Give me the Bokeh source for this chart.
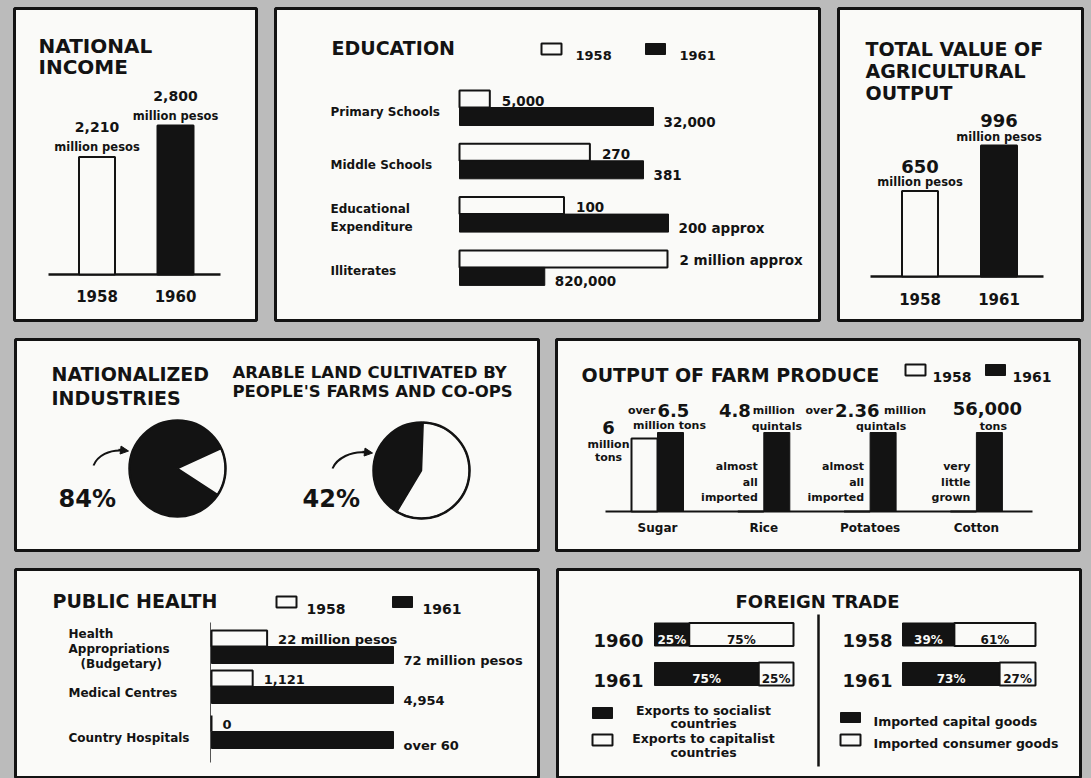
import math
from bokeh.plotting import figure
from bokeh.layouts import row, column
from bokeh.models import Range1d, Arrow, NormalHead
from bokeh.core.properties import value
from bokeh.embed import file_html
from bokeh.resources import INLINE

# ---------------- data ----------------
income_years = ["1958", "1960"]
income_values = [2210, 2800]
income_labels = ["2,210", "2,800"]

edu_rows = [["Primary Schools"], ["Middle Schools"], ["Educational", "Expenditure"], ["Illiterates"]]
edu_1958 = [5000, 270, 100, 2000000]
edu_1961 = [32000, 381, 200, 820000]
edu_labels_1958 = ["5,000", "270", "100", "2 million approx"]
edu_labels_1961 = ["32,000", "381", "200 approx", "820,000"]

agri_years = ["1958", "1961"]
agri_values = [650, 996]
agri_labels = ["650", "996"]

pie_pct = [84, 42]

farm_crops = ["Sugar", "Rice", "Potatoes", "Cotton"]
farm_1958 = [6.0, 0.0, 0.0, 0.0]
farm_1961 = [6.5, 4.8, 2.36, 0.056]
farm_notes = [[], ["almost", "all", "imported"], ["almost", "all", "imported"], ["very", "little", "grown"]]

health_rows = [["Health", "Appropriations", "(Budgetary)"], ["Medical Centres"], ["Country Hospitals"]]
health_1958 = [22, 1121, 0]
health_1961 = [72, 4954, 60]
health_labels_1958 = ["22 million pesos", "1,121", "0"]
health_labels_1961 = ["72 million pesos", "4,954", "over 60"]

export_years = ["1960", "1961"]
export_socialist = [25, 75]
export_capitalist = [75, 25]
import_years = ["1958", "1961"]
import_capital = [39, 73]
import_consumer = [61, 27]

# ---------------- style ----------------
INK = "#131313"
PAPER = "#fafaf8"
BG = "#bbbbbb"
FONT = "DejaVu Sans"


def panel(ox, oy, w, h, margin, open_bottom=False):
    """A boxed panel whose default ranges are page pixel positions."""
    bb = 0 if open_bottom else 2
    p = figure(width=w, height=h, x_range=Range1d(ox + 2, ox + w - 2),
               y_range=Range1d(oy + h - bb, oy + 2),
               output_backend="svg", toolbar_location=None, tools="",
               x_axis_location=None, y_axis_location=None, min_border=2,
               min_border_bottom=bb, margin=margin)
    p.grid.visible = False
    p.background_fill_color = PAPER
    p.border_fill_color = BG
    p.outline_line_color = INK
    p.outline_line_width = 3
    p._oy = oy
    p._ox = ox
    p._bb = bb
    return p


def txt(p, xs, ys, texts, size, align="left", color=INK, dx=0, dy=0,
        xr="default", yr="default", style="bold"):
    p.text(x=list(xs), y=list(ys), text=list(texts), text_font=value(FONT),
           text_font_size=f"{size}px", text_font_style=style, text_align=align,
           text_baseline="alphabetic", text_color=color, x_offset=dx, y_offset=dy,
           x_range_name=xr, y_range_name=yr)


def vrange(p, h, base, s):
    oy = p._oy
    return Range1d(start=-(oy + h - p._bb - base) * s, end=(base - oy - 2) * s)


def hrange(p, w, x0, s):
    ox = p._ox
    return Range1d(start=-(x0 - ox - 2) * s, end=(ox + w - 2 - x0) * s)


def legend_pair(p, x, y, size, gap, tgap, box=20, bh=11):
    p.quad(left=[x], right=[x + box], top=[y - bh], bottom=[y], fill_color=PAPER, line_color=INK, line_width=2)
    txt(p, [x + box + tgap], [y + 1], ["1958"], size)
    p.quad(left=[x + gap], right=[x + gap + box], top=[y - bh], bottom=[y], fill_color=INK, line_color=INK)
    txt(p, [x + gap + box + tgap], [y + 1], ["1961"], size)


# ---------------- National income ----------------
W, H = 246, 316
pa = panel(12, 6, W, H, (6, 0, 0, 12))
txt(pa, [38, 38], [45, 66], ["NATIONAL", "INCOME"], 20)
pa.extra_y_ranges = {"val": vrange(pa, H, 274, 2800 / 149)}
xa = [96.5 + 78.5 * i for i in range(len(income_years))]
pa.segment(x0=[48], y0=[0], x1=[220], y1=[0], line_color=INK, line_width=2.5, y_range_name="val")
pa.vbar(x=xa, top=income_values, bottom=0, width=36, y_range_name="val",
        fill_color=[PAPER, INK], line_color=INK, line_width=2)
txt(pa, xa, income_values, income_labels, 14, "center", dy=-30, yr="val")
txt(pa, xa, income_values, ["million pesos"] * 2, 11.5, "center", dy=-10, yr="val")
txt(pa, xa, [0, 0], income_years, 15, "center", dy=21, yr="val")

# ---------------- Education ----------------
W, H = 548, 316
pb = panel(273, 6, W, H, (6, 0, 0, 15))
txt(pb, [331], [47], ["EDUCATION"], 19)
legend_pair(pb, 541, 54, size=13, gap=104, tgap=14)
edu_len = [194, 184, 209, 208]
x0 = 459
for i in range(len(edu_rows)):
    yb = 107 + 53.3 * i
    m = max(edu_1958[i], edu_1961[i])
    name = f"r{i}"
    pb.extra_x_ranges[name] = hrange(pb, W, x0, m / edu_len[i])
    pb.hbar(y=[yb - 8.5], left=[0], right=[edu_1958[i]], height=17, fill_color=PAPER,
            line_color=INK, line_width=2, x_range_name=name)
    pb.hbar(y=[yb + 9], left=[0], right=[edu_1961[i]], height=18, fill_color=INK,
            line_color=INK, line_width=1, x_range_name=name)
    txt(pb, [edu_1958[i]], [yb - 7], [edu_labels_1958[i]], 13.5, dx=12, xr=name)
    txt(pb, [edu_1961[i]], [yb + 14], [edu_labels_1961[i]], 13.5, dx=10, xr=name)
    n = len(edu_rows[i])
    ys = [yb + 4 + (j - (n - 1) / 2) * 18 for j in range(n)]
    txt(pb, [330] * n, ys, edu_rows[i], 12)

# ---------------- Agricultural output ----------------
W, H = 248, 316
pc = panel(836, 6, W, H, (6, 7, 0, 15))
txt(pc, [865, 865, 865], [48, 70, 92], ["TOTAL VALUE OF", "AGRICULTURAL", "OUTPUT"], 19)
pc.extra_y_ranges = {"val": vrange(pc, H, 276, 996 / 131)}
xc = [919.5 + 79 * i for i in range(len(agri_years))]
pc.segment(x0=[870], y0=[0], x1=[1043], y1=[0], line_color=INK, line_width=2.5, y_range_name="val")
pc.vbar(x=xc, top=agri_values, bottom=0, width=36, y_range_name="val",
        fill_color=[PAPER, INK], line_color=INK, line_width=2)
txt(pc, xc, agri_values, agri_labels, 18, "center", dy=-25, yr="val")
txt(pc, xc, agri_values, ["million pesos"] * 2, 11.5, "center", dy=-9, yr="val")
txt(pc, xc, [0, 0], agri_years, 15, "center", dy=22, yr="val")

# ---------------- Pies ----------------
W, H = 527, 215
pd_ = panel(13, 337, W, H, (15, 0, 0, 13))
txt(pd_, [51, 51], [373, 397], ["NATIONALIZED", "INDUSTRIES"], 19)
txt(pd_, [232, 232], [372, 391], ["ARABLE LAND CULTIVATED BY", "PEOPLE'S FARMS AND CO-OPS"], 16.5)
pie_x = [177, 421]
pie_y = [468, 470]
pie_start = [24.6, 88.0]
R = 48
for i in range(2):
    a0 = math.radians(pie_start[i])
    a1 = a0 + math.radians(pie_pct[i] * 3.6)
    pd_.wedge(x=[pie_x[i]], y=[pie_y[i]], radius=R, start_angle=[a0], end_angle=[a1],
              direction="anticlock", fill_color=INK, line_color=INK, line_width=1)
    pd_.wedge(x=[pie_x[i]], y=[pie_y[i]], radius=R, start_angle=[a1], end_angle=[a0 + 2 * math.pi],
              direction="anticlock", fill_color=PAPER, line_color=INK, line_width=1.5)
pd_.circle(x=pie_x, y=pie_y, radius=R, fill_color=None, line_color=INK, line_width=2.5)
txt(pd_, [58, 302], [498, 498], [f"{v}%" for v in pie_pct], 24)
pd_.bezier(x0=[93, 332], y0=[465, 468], x1=[122, 366], y1=[450, 452],
           cx0=[97, 336], cy0=[455, 458], cx1=[109, 351], cy1=[449, 450],
           line_color=INK, line_width=2)
for (xs_, ys_, xe, ye) in [(118, 449.3, 128, 450.5), (362, 451.3, 372, 452.5)]:
    pd_.add_layout(Arrow(end=NormalHead(size=8, fill_color=INK, line_color=INK, line_width=1),
                         x_start=xs_, y_start=ys_, x_end=xe, y_end=ye, line_color=INK, line_width=2))

# ---------------- Farm produce ----------------
W, H = 527, 215
pe = panel(554, 337, W, H, (15, 10, 0, 14))
txt(pe, [581], [374], ["OUTPUT OF FARM PRODUCE"], 19)
legend_pair(pe, 905, 375, size=14, gap=80, tgap=7)
pe.extra_y_ranges = {"val": vrange(pe, H, 511, 1 / 79)}
cx = [657 + 106.3 * i for i in range(len(farm_crops))]
f58 = [a / b for a, b in zip(farm_1958, farm_1961)]
f61 = [b / b for b in farm_1961]
pe.segment(x0=[605], y0=[0], x1=[1032], y1=[0], line_color=INK, line_width=2, y_range_name="val")
pe.vbar(x=[c - 13 for c in cx], top=f58, bottom=0, width=26, y_range_name="val",
        fill_color=PAPER, line_color=INK, line_width=2)
pe.vbar(x=[c + 13 for c in cx], top=f61, bottom=0, width=26, y_range_name="val",
        fill_color=INK, line_color=INK, line_width=1)
txt(pe, cx, [0] * 4, farm_crops, 12, "center", dy=16, yr="val")
# value annotations
txt(pe, [cx[0] - 49], [f58[0]], ["6"], 18, "center", dy=-11, yr="val")
txt(pe, [cx[0] - 49], [f58[0]], ["million"], 11, "center", dy=6, yr="val")
txt(pe, [cx[0] - 49], [f58[0]], ["tons"], 11, "center", dy=19, yr="val")
txt(pe, [cx[0] - 2], [f61[0]], ["over"], 11, "right", dy=-22, yr="val")
txt(pe, [cx[0]], [f61[0]], ["6.5"], 18, "left", dy=-22, yr="val")
txt(pe, [cx[0] + 12], [f61[0]], ["million tons"], 11, "center", dy=-7, yr="val")
txt(pe, [cx[1] - 13], [f61[1]], ["4.8"], 18, "right", dy=-22, yr="val")
txt(pe, [cx[1] - 11], [f61[1]], ["million"], 11, "left", dy=-22, yr="val")
txt(pe, [cx[1] + 13], [f61[1]], ["quintals"], 11, "center", dy=-6, yr="val")
txt(pe, [cx[2] - 37], [f61[2]], ["over"], 11, "right", dy=-22, yr="val")
txt(pe, [cx[2] - 35], [f61[2]], ["2.36"], 18, "left", dy=-22, yr="val")
txt(pe, [cx[2] + 14], [f61[2]], ["million"], 11, "left", dy=-22, yr="val")
txt(pe, [cx[2] + 11], [f61[2]], ["quintals"], 11, "center", dy=-6, yr="val")
txt(pe, [cx[3] + 11], [f61[3]], ["56,000"], 18, "center", dy=-24, yr="val")
txt(pe, [cx[3] + 17], [f61[3]], ["tons"], 11, "center", dy=-6, yr="val")
for i, notes in enumerate(farm_notes):
    for j, note in enumerate(notes):
        txt(pe, [cx[i] - 6], [0], [note], 11, "right", dy=-45 + 15.5 * j, yr="val")

# ---------------- Public health ----------------
W, H = 527, 211
pf = panel(13, 567, W, H, (15, 0, 0, 13), open_bottom=True)
txt(pf, [52], [600], ["PUBLIC HEALTH"], 19)
legend_pair(pf, 276, 607, size=14, gap=116, tgap=10)
pf.segment(x0=[210], y0=[622], x1=[210], y1=[762], line_color="#555555", line_width=1)
x0 = 211
for i in range(len(health_rows)):
    yb = [646, 686, 731][i]
    m = max(health_1958[i], health_1961[i])
    name = f"h{i}"
    pf.extra_x_ranges[name] = hrange(pf, W, x0, m / 182)
    pf.hbar(y=[yb - 8], left=[0], right=[health_1958[i]], height=16, fill_color=PAPER,
            line_color=INK, line_width=2, x_range_name=name)
    pf.hbar(y=[yb + 8.5], left=[0], right=[health_1961[i]], height=17, fill_color=INK,
            line_color=INK, line_width=1, x_range_name=name)
    txt(pf, [health_1958[i]], [yb - 7], [health_labels_1958[i]], 13, dx=11, xr=name)
    txt(pf, [health_1961[i]], [yb + 14], [health_labels_1961[i]], 13, dx=10, xr=name)
    n = len(health_rows[i])
    base = yb + (6 if n == 1 else 2)
    for j, line in enumerate(health_rows[i]):
        xoff = 12 if line.startswith("(") else 0
        txt(pf, [68 + xoff], [base + (j - (n - 1) / 2) * 15], [line], 12)

# ---------------- Foreign trade ----------------
W, H = 527, 211
pg = panel(555, 567, W, H, (15, 9, 0, 15), open_bottom=True)
txt(pg, [817], [601], ["FOREIGN TRADE"], 18, "center")
pg.segment(x0=[818], y0=[614], x1=[818], y1=[766], line_color=INK, line_width=2.5)
pg.extra_x_ranges = {"pl": hrange(pg, W, 654, 100 / 139), "pr": hrange(pg, W, 902, 100 / 133)}
ty = [634, 673.5]
for (rname, years, blk, wht, ylab_x) in [("pl", export_years, export_socialist, export_capitalist, 643),
                                          ("pr", import_years, import_capital, import_consumer, 892)]:
    pg.hbar(y=ty, left=[0, 0], right=blk, height=23, fill_color=INK, line_color=INK, x_range_name=rname)
    pg.hbar(y=ty, left=blk, right=[b + w for b, w in zip(blk, wht)], height=23, fill_color=PAPER,
            line_color=INK, line_width=2, x_range_name=rname)
    txt(pg, [ylab_x] * 2, [y + 6 for y in ty], years, 18, "right")
    txt(pg, [b / 2 for b in blk], [y + 5 for y in ty], [f"{b}%" for b in blk], 12, "center",
        color=PAPER, xr=rname)
    txt(pg, [b + w / 2 for b, w in zip(blk, wht)], [y + 5 for y in ty], [f"{w}%" for w in wht], 12,
        "center", xr=rname)
# legends
pg.quad(left=[592], right=[612], top=[707], bottom=[718], fill_color=INK, line_color=INK)
pg.quad(left=[592], right=[612], top=[734], bottom=[745], fill_color=PAPER, line_color=INK, line_width=2)
txt(pg, [703, 703, 703, 703], [710, 723, 738, 752],
    ["Exports to socialist", "countries", "Exports to capitalist", "countries"], 12.5, "center")
pg.quad(left=[840], right=[860], top=[712], bottom=[722], fill_color=INK, line_color=INK)
pg.quad(left=[840], right=[860], top=[734], bottom=[745], fill_color=PAPER, line_color=INK, line_width=2)
txt(pg, [873, 873], [721, 743], ["Imported capital goods", "Imported consumer goods"], 12.5)

layout = column(row(pa, pb, pc), row(pd_, pe), row(pf, pg), styles={"background-color": BG})
open("out.html", "w").write(file_html(layout, INLINE))
